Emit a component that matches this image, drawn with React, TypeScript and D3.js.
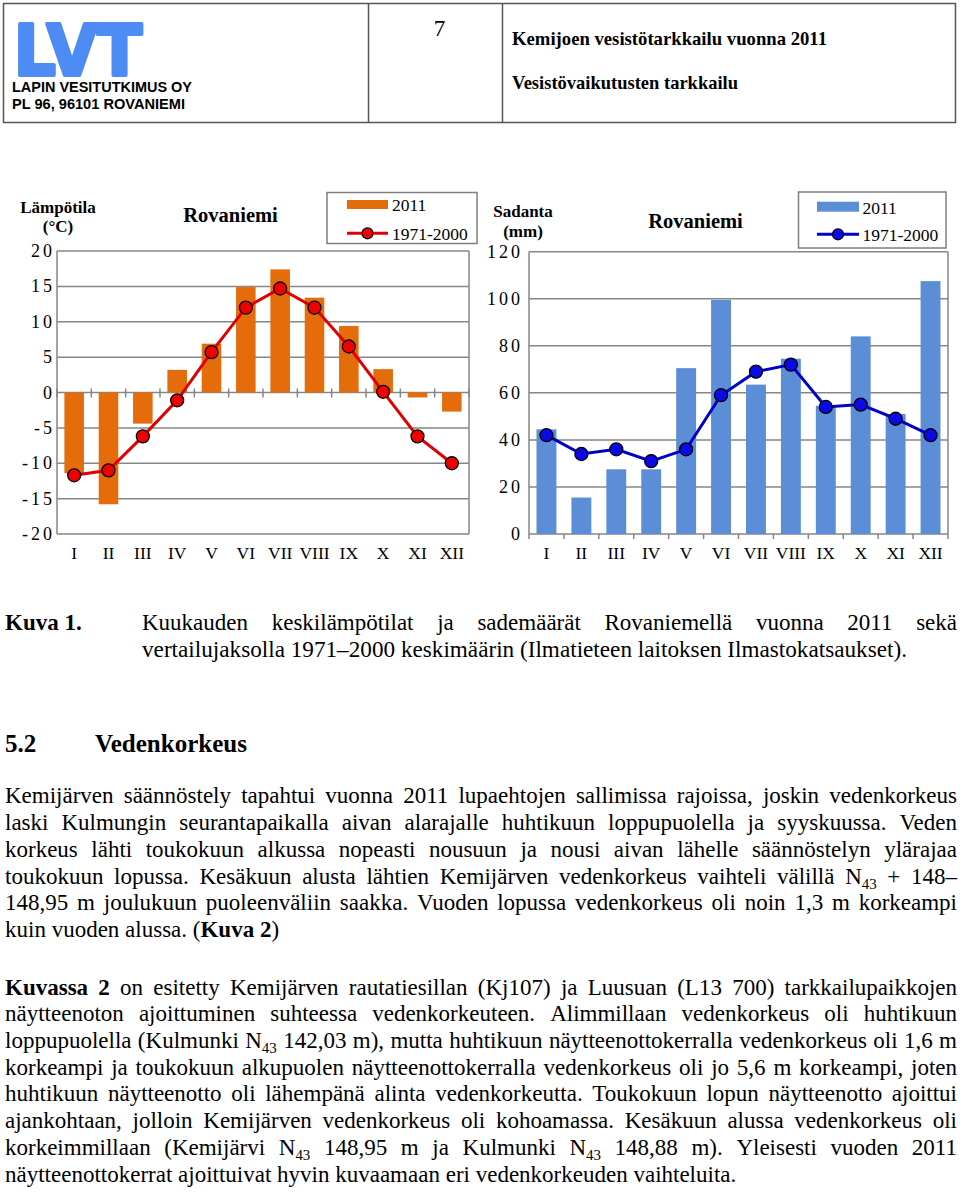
import * as d3 from 'd3';

const months = ['I', 'II', 'III', 'IV', 'V', 'VI', 'VII', 'VIII', 'IX', 'X', 'XI', 'XII'];

// Lämpötila (°C)
const temp2011 = [-11.4, -15.8, -4.4, 3.2, 6.9, 14.9, 17.4, 13.4, 9.4, 3.3, -0.7, -2.7];
const temp7100 = [-11.7, -11.0, -6.2, -1.1, 5.7, 12.0, 14.7, 12.0, 6.5, 0.1, -6.2, -10.0];
const tempTicks = [20, 15, 10, 5, 0, -5, -10, -15, -20];

// Sadanta (mm)
const rain2011 = [44.5, 15.5, 27.5, 27.5, 70.5, 99.5, 63.5, 74.5, 54.5, 84, 51, 107.5];
const rain7100 = [42, 34, 36, 31, 36, 59, 69, 72, 54, 55, 49, 42];
const rainTicks = [120, 100, 80, 60, 40, 20, 0];

const captionLines = [
  'Kuukauden keskilämpötilat ja sademäärät Rovaniemellä vuonna 2011 sekä',
  'vertailujaksolla 1971–2000 keskimäärin (Ilmatieteen laitoksen Ilmastokatsaukset).',
];

// ^ toggles bold, {..} = subscript
const para1 = [
  'Kemijärven säännöstely tapahtui vuonna 2011 lupaehtojen sallimissa rajoissa, joskin vedenkorkeus',
  'laski Kulmungin seurantapaikalla aivan alarajalle huhtikuun loppupuolella ja syyskuussa. Veden',
  'korkeus lähti toukokuun alkussa nopeasti nousuun ja nousi aivan lähelle säännöstelyn ylärajaa',
  'toukokuun lopussa. Kesäkuun alusta lähtien Kemijärven vedenkorkeus vaihteli välillä N{43} + 148–',
  '148,95 m joulukuun puoleenväliin saakka. Vuoden lopussa vedenkorkeus oli noin 1,3 m korkeampi',
  'kuin vuoden alussa. (^Kuva 2^)',
];
const para2 = [
  '^Kuvassa 2^ on esitetty Kemijärven rautatiesillan (Kj107) ja Luusuan (L13 700) tarkkailupaikkojen',
  'näytteenoton ajoittuminen suhteessa vedenkorkeuteen. Alimmillaan vedenkorkeus oli huhtikuun',
  'loppupuolella (Kulmunki N{43} 142,03 m), mutta huhtikuun näytteenottokerralla vedenkorkeus oli 1,6 m',
  'korkeampi ja toukokuun alkupuolen näytteenottokerralla vedenkorkeus oli jo 5,6 m korkeampi, joten',
  'huhtikuun näytteenotto oli lähempänä alinta vedenkorkeutta. Toukokuun lopun näytteenotto ajoittui',
  'ajankohtaan, jolloin Kemijärven vedenkorkeus oli kohoamassa. Kesäkuun alussa vedenkorkeus oli',
  'korkeimmillaan (Kemijärvi N{43} 148,95 m ja Kulmunki N{43} 148,88 m). Yleisesti vuoden 2011',
  'näytteenottokerrat ajoittuivat hyvin kuvaamaan eri vedenkorkeuden vaihteluita.',
];

const SERIF = '"Liberation Serif", "Times New Roman", serif';
const SANS = '"Liberation Sans", Arial, sans-serif';
const GRID = '#868686';

let ctx: CanvasRenderingContext2D | null = null;
function measure(text: string, size: number, bold: boolean) {
  if (!ctx) ctx = document.createElement('canvas').getContext('2d');
  ctx!.font = `${bold ? 'bold ' : ''}${size}px "Liberation Serif"`;
  return ctx!.measureText(text).width;
}

type Seg = { t: string; b: boolean; sub: boolean };

function parseWords(line: string): Seg[][] {
  const words: Seg[][] = [];
  let cur: Seg[] = [];
  let bold = false;
  let sub = false;
  const push = (ch: string) => {
    const last = cur[cur.length - 1];
    if (last && last.b === bold && last.sub === sub) last.t += ch;
    else cur.push({ t: ch, b: bold, sub });
  };
  for (const ch of line) {
    if (ch === '^') bold = !bold;
    else if (ch === '{') sub = true;
    else if (ch === '}') sub = false;
    else if (ch === ' ') {
      if (cur.length) words.push(cur);
      cur = [];
    } else push(ch);
  }
  if (cur.length) words.push(cur);
  return words;
}

function TextLine({ line, x0, x1, y, size, justify }: { line: string; x0: number; x1: number; y: number; size: number; justify: boolean }) {
  const words = parseWords(line);
  const segW = (s: Seg) => measure(s.t, s.sub ? size * 0.65 : size, s.b);
  const widths = words.map((w) => d3.sum(w, segW));
  const total = d3.sum(widths);
  const gap = justify && words.length > 1 ? (x1 - x0 - total) / (words.length - 1) : measure(' ', size, false);
  let x = x0;
  const out: JSX.Element[] = [];
  words.forEach((w, i) => {
    let sx = x;
    w.forEach((s, j) => {
      out.push(
        <text
          key={`${i}-${j}`}
          x={sx}
          y={s.sub ? y + size * 0.2 : y}
          fontSize={s.sub ? size * 0.65 : size}
          fontWeight={s.b ? 'bold' : 'normal'}
        >
          {s.t}
        </text>
      );
      sx += segW(s);
    });
    x += widths[i] + gap;
  });
  return <g fontFamily={SERIF} fill="#000">{out}</g>;
}

interface ChartProps {
  left: number;
  right: number;
  top: number;
  bottom: number;
  domain: [number, number];
  ticks: number[];
  bars: number[];
  line: number[];
  barColor: string;
  lineColor: string;
  markerColor: string;
  tickLabelRight: number;
  crossTicks: boolean;
}

function ComboChart(p: ChartProps) {
  const x = d3.scaleBand<string>().domain(months).range([p.left, p.right]).paddingInner(0.43).paddingOuter(0.215);
  const y = d3.scaleLinear().domain(p.domain).range([p.bottom, p.top]);
  const step = x.step();
  const y0 = y(0);
  const cx = (m: string) => x(m)! + x.bandwidth() / 2;
  const path = d3
    .line<number>()
    .x((_, i) => cx(months[i]))
    .y((d) => y(d))(p.line);
  const tickY1 = p.crossTicks ? y0 - 4 : y0;
  const tickY2 = y0 + 5;
  return (
    <g>
      {p.ticks.map((t) => (
        <line key={t} x1={p.left} x2={p.right} y1={y(t)} y2={y(t)} stroke={GRID} strokeWidth={1.5} />
      ))}
      <line x1={p.left} x2={p.left} y1={p.top} y2={p.bottom} stroke={GRID} strokeWidth={1.5} />
      <line x1={p.right} x2={p.right} y1={p.top} y2={p.bottom} stroke={GRID} strokeWidth={1.5} />
      {d3.range(13).map((k) => (
        <line key={k} x1={p.left + k * step} x2={p.left + k * step} y1={tickY1} y2={tickY2} stroke={GRID} strokeWidth={1.5} />
      ))}
      {p.bars.map((v, i) => (
        <rect
          key={i}
          x={x(months[i])}
          width={x.bandwidth()}
          y={Math.min(y(v), y0)}
          height={Math.abs(y(v) - y0)}
          fill={p.barColor}
        />
      ))}
      <path d={path!} fill="none" stroke={p.lineColor} strokeWidth={3} />
      {p.line.map((v, i) => (
        <circle key={i} cx={cx(months[i])} cy={y(v)} r={6.5} fill={p.markerColor} stroke="#000" strokeWidth={1.3} />
      ))}
      <g fontFamily={SERIF} fontSize={18} fill="#000">
        {p.ticks.map((t) => (
          <text key={t} x={p.tickLabelRight + 3} y={y(t) + 6} textAnchor="end" letterSpacing={3}>
            {t}
          </text>
        ))}
      </g>
      <g fontFamily={SERIF} fontSize={17.5} fill="#000">
        {months.map((m) => (
          <text key={m} x={cx(m)} y={559} textAnchor="middle">
            {m}
          </text>
        ))}
      </g>
    </g>
  );
}

function Legend({ x, y, w, h, sw, lineY, textX, barColor, lineColor, markerColor, swY, swH }: any) {
  return (
    <g fontFamily={SERIF} fontSize={17.5} fill="#000">
      <rect x={x} y={y} width={w} height={h} fill="#fff" stroke="#7f7f7f" strokeWidth={1.5} />
      <rect x={sw[0]} y={swY} width={sw[1] - sw[0]} height={swH} fill={barColor} />
      <text x={textX} y={swY + swH + 2}>2011</text>
      <line x1={sw[0]} x2={sw[1]} y1={lineY} y2={lineY} stroke={lineColor} strokeWidth={3} />
      <circle cx={(sw[0] + sw[1]) / 2} cy={lineY} r={5.5} fill={markerColor} stroke="#000" strokeWidth={1.2} />
      <text x={textX} y={lineY + 6.5}>1971-2000</text>
    </g>
  );
}

export default function App() {
  const bodySize = 23;
  const p1Y = [803, 830, 857, 884, 910, 937];
  const p2Y = [995, 1021, 1048, 1075, 1101, 1128, 1155, 1182];
  return (
    <svg
      width={960}
      height={1194}
      viewBox="0 0 960 1194"
      style={{ position: 'absolute', left: 0, top: 0, display: 'block', background: '#fff' }}
    >
      <rect width={960} height={1194} fill="#fff" />

      {/* header table */}
      <g stroke="#555" strokeWidth={1.5} fill="none">
        <rect x={3.5} y={3.5} width={952} height={119} />
        <line x1={368.5} x2={368.5} y1={3.5} y2={122.5} />
        <line x1={502.5} x2={502.5} y1={3.5} y2={122.5} />
      </g>
      <text
        x={14}
        y={75}
        fontFamily='"DejaVu Sans", sans-serif'
        fontWeight="bold"
        fontSize={70}
        textLength={128}
        lengthAdjust="spacingAndGlyphs"
        fill="#4d8bf5"
        stroke="#4d8bf5"
        strokeWidth={4}
        strokeLinejoin="round"
      >
        LVT
      </text>
      <g fontFamily={SANS} fontWeight="bold" fontSize={14.5} fill="#000">
        <text x={12} y={91.5} textLength={180} lengthAdjust="spacingAndGlyphs">LAPIN VESITUTKIMUS OY</text>
        <text x={12} y={108.5} textLength={173} lengthAdjust="spacingAndGlyphs">PL 96, 96101 ROVANIEMI</text>
      </g>
      <text x={439.5} y={36} fontFamily={SERIF} fontSize={23} textAnchor="middle">7</text>
      <g fontFamily={SERIF} fontWeight="bold" fontSize={19.5} fill="#000">
        <text x={512} y={44.5} textLength={315} lengthAdjust="spacingAndGlyphs">Kemijoen vesistötarkkailu vuonna 2011</text>
        <text x={512} y={88.5} textLength={226} lengthAdjust="spacingAndGlyphs">Vesistövaikutusten tarkkailu</text>
      </g>

      {/* left chart: temperature */}
      <g fontFamily={SERIF} fontWeight="bold" fill="#000">
        <text x={58} y={212.5} fontSize={17} textAnchor="middle">Lämpötila</text>
        <text x={58} y={232} fontSize={17} textAnchor="middle">(°C)</text>
        <text x={230.5} y={222} fontSize={20.5} textAnchor="middle">Rovaniemi</text>
      </g>
      <ComboChart
        left={57}
        right={469}
        top={251}
        bottom={534}
        domain={[-20, 20]}
        ticks={tempTicks}
        bars={temp2011}
        line={temp7100}
        barColor="#e46c0a"
        lineColor="#e00000"
        markerColor="#f00000"
        tickLabelRight={52}
        crossTicks={true}
      />
      <Legend
        x={327}
        y={192.5}
        w={150}
        h={51}
        sw={[347, 388]}
        swY={200}
        swH={9}
        lineY={233.3}
        textX={392}
        barColor="#e46c0a"
        lineColor="#e00000"
        markerColor="#f00000"
      />

      {/* right chart: precipitation */}
      <g fontFamily={SERIF} fontWeight="bold" fill="#000">
        <text x={523} y={217} fontSize={17} textAnchor="middle">Sadanta</text>
        <text x={523} y={236.5} fontSize={17} textAnchor="middle">(mm)</text>
        <text x={695.5} y={228} fontSize={20.5} textAnchor="middle">Rovaniemi</text>
      </g>
      <ComboChart
        left={529}
        right={948}
        top={251.7}
        bottom={534}
        domain={[0, 120]}
        ticks={rainTicks}
        bars={rain2011}
        line={rain7100}
        barColor="#5b8ed6"
        lineColor="#0000c8"
        markerColor="#0a0ae6"
        tickLabelRight={520}
        crossTicks={false}
      />
      <Legend
        x={798.5}
        y={192}
        w={147.5}
        h={56}
        sw={[817, 859]}
        swY={201.7}
        swH={10}
        lineY={234.3}
        textX={862.5}
        barColor="#5b8ed6"
        lineColor="#0000c8"
        markerColor="#0a0ae6"
      />

      {/* caption */}
      <text x={5} y={630} fontFamily={SERIF} fontWeight="bold" fontSize={bodySize}>Kuva 1.</text>
      <TextLine line={captionLines[0]} x0={142} x1={957} y={630} size={bodySize} justify={true} />
      <TextLine line={captionLines[1]} x0={142} x1={957} y={657} size={23.2} justify={false} />

      {/* section heading */}
      <g fontFamily={SERIF} fontWeight="bold" fontSize={25}>
        <text x={5} y={752}>5.2</text>
        <text x={95} y={752}>Vedenkorkeus</text>
      </g>

      {para1.map((l, i) => (
        <TextLine key={i} line={l} x0={5} x1={957} y={p1Y[i]} size={bodySize} justify={i < para1.length - 1} />
      ))}
      {para2.map((l, i) => (
        <TextLine key={i} line={l} x0={5} x1={957} y={p2Y[i]} size={bodySize} justify={i < para2.length - 1} />
      ))}
    </svg>
  );
}
